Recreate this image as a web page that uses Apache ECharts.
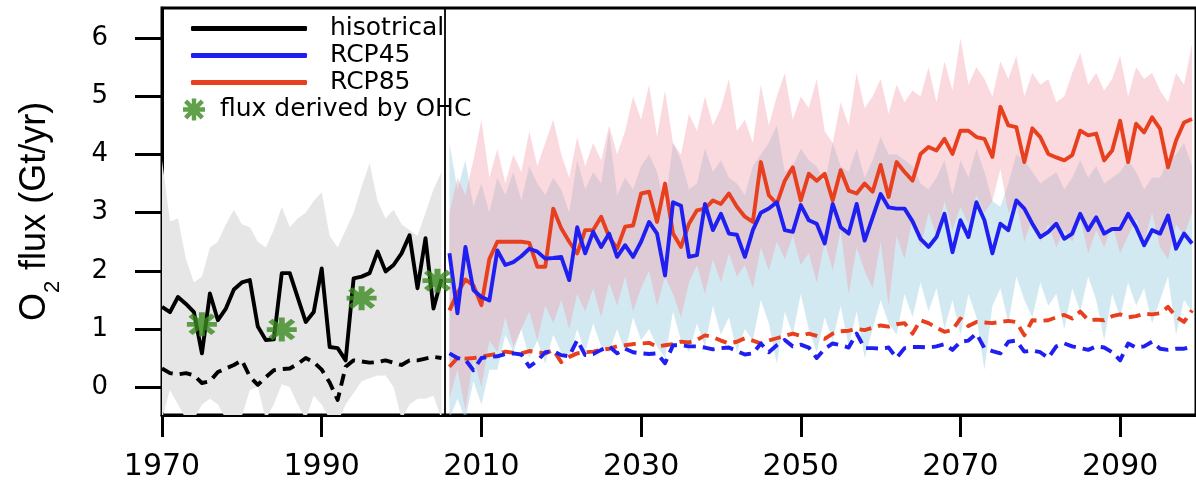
<!DOCTYPE html>
<html>
<head>
<meta charset="utf-8">
<script src="https://cdn.jsdelivr.net/npm/echarts@6/dist/echarts.min.js"></script>
<style>
  html, body { margin: 0; padding: 0; background: #fff; }
  #chart { width: 1196px; height: 483px; }
</style>
</head>
<body>
<div id="chart"></div>
<script>
// Annual O2 flux (Gt/yr): historical run 1970-2005, scenario runs 2006-2099
const HIST_START = 1970;
const RCP_START = 2006;
const HIST_END_MARK = 2005.4;

const xTicks = [1970, 1990, 2010, 2030, 2050, 2070, 2090];
const yTicks = [0, 1, 2, 3, 4, 5, 6];

// historical: solid line, dashed line, shaded spread
const histMain = [1.38, 1.29, 1.55, 1.43, 1.29, 0.58, 1.61, 1.15, 1.35, 1.68,
  1.80, 1.84, 1.04, 0.81, 0.82, 1.96, 1.96, 1.54, 1.12, 1.29,
  2.04, 0.69, 0.67, 0.46, 1.87, 1.90, 1.96, 2.33, 1.99, 2.10,
  2.30, 2.61, 1.70, 2.56, 1.35, 1.86];
const histDash = [0.32, 0.24, 0.22, 0.24, 0.20, 0.07, 0.10, 0.26, 0.32, 0.38,
  0.46, 0.18, 0.04, 0.17, 0.29, 0.31, 0.32, 0.40, 0.50, 0.43,
  0.30, 0.08, -0.22, 0.35, 0.46, 0.44, 0.42, 0.43, 0.46, 0.42,
  0.38, 0.46, 0.46, 0.49, 0.52, 0.50];
const histHi = [3.9, 2.85, 2.9, 2.2, 1.8, 1.9, 2.4, 2.5, 2.8, 3.05,
  2.8, 2.75, 2.5, 2.4, 2.7, 3.1, 2.75, 2.9, 3.0, 3.2,
  3.35, 2.6, 2.4, 2.7, 3.0, 3.45, 3.85, 3.2, 2.9, 3.05,
  2.8, 2.7, 2.6, 3.0, 3.4, 3.7];
const histLo = [-0.55, -0.05, -0.3, -0.55, -0.55, -0.3, -0.2, -0.3, -0.55, -0.55,
  -0.5, -0.05, 0.0, -0.55, -0.3, 0.05, 0.0, -0.3, -0.55, -0.15,
  -0.3, -0.55, -0.6, -0.3, -0.1, 0.1, 0.15, 0.2, 0.2, 0.0,
  -0.55, -0.3, -0.2, -0.2, -0.15, -0.55];

// RCP4.5
const rcp45Main = [2.30, 1.27, 2.41, 1.67, 1.55, 1.49, 2.35, 2.10, 2.15, 2.25,
  2.38, 2.33, 2.21, 2.22, 2.24, 1.84, 2.75, 2.30, 2.67, 2.41,
  2.64, 2.24, 2.44, 2.24, 2.50, 2.84, 2.64, 1.92, 3.18, 3.12,
  2.24, 2.27, 3.15, 2.70, 2.98, 2.64, 2.62, 2.24, 2.70, 3.00,
  3.07, 3.18, 2.70, 2.67, 3.13, 2.87, 2.81, 2.47, 3.15, 2.75,
  2.64, 3.15, 2.52, 2.92, 3.32, 3.09, 3.07, 3.07, 2.85, 2.55,
  2.41, 2.58, 2.98, 2.32, 2.87, 2.58, 3.18, 2.87, 2.30, 2.81,
  2.70, 3.21, 3.07, 2.81, 2.58, 2.67, 2.81, 2.55, 2.64, 2.98,
  2.70, 2.92, 2.64, 2.72, 2.72, 2.98, 2.75, 2.44, 2.70, 2.64,
  2.95, 2.38, 2.64, 2.47];
const rcp45Dash = [0.58, 0.50, 0.47, 0.29, 0.50, 0.52, 0.53, 0.57, 0.58, 0.56,
  0.35, 0.45, 0.60, 0.62, 0.55, 0.53, 0.81, 0.55, 0.57, 0.64,
  0.70, 0.58, 0.66, 0.60, 0.58, 0.57, 0.58, 0.41, 0.72, 0.72,
  0.70, 0.70, 0.68, 0.65, 0.67, 0.68, 0.62, 0.56, 0.58, 0.75,
  0.60, 0.72, 0.81, 0.70, 0.73, 0.68, 0.50, 0.66, 0.75, 0.72,
  0.68, 0.92, 0.67, 0.67, 0.66, 0.68, 0.50, 0.67, 0.69, 0.69,
  0.68, 0.70, 0.74, 0.64, 0.78, 0.80, 0.92, 0.67, 0.62, 0.58,
  0.78, 0.80, 0.61, 0.63, 0.60, 0.50, 0.70, 0.75, 0.70, 0.67,
  0.64, 0.70, 0.68, 0.60, 0.46, 0.75, 0.68, 0.70, 0.78, 0.66,
  0.64, 0.66, 0.66, 0.69];
const rcp45Hi = [4.2, 3.4, 3.9, 3.1, 3.5, 3.0, 3.6, 3.3, 3.7, 3.2,
  3.8, 3.5, 3.3, 3.6, 3.4, 3.0, 3.9, 3.4, 3.7, 3.5,
  4.4, 3.3, 3.6, 3.4, 3.8, 4.0, 3.7, 3.1, 4.2, 3.9,
  3.4, 3.5, 4.1, 3.7, 3.9, 3.6, 3.5, 3.3, 3.8, 4.0,
  4.2, 4.5, 3.7, 3.8, 4.1, 3.9, 3.8, 3.5, 4.2, 3.8,
  3.7, 4.1, 3.6, 3.9, 4.3, 4.0, 4.0, 3.9, 3.8, 3.5,
  3.4, 3.6, 3.9, 3.3, 3.9, 3.6, 4.1, 3.7, 3.2, 3.1,
  3.5, 4.0, 3.9, 3.7, 3.5, 3.6, 3.7, 3.4, 3.6, 3.9,
  3.6, 3.8, 3.5, 3.6, 3.7, 3.9, 3.7, 3.4, 3.6, 3.6,
  3.9, 4.0, 4.2, 3.8];
const rcp45Lo = [-0.55, -0.2, -0.55, 0.1, -0.3, 0.3, 0.3, 0.9, 0.6, 1.0,
  0.5, 0.8, 0.4, 0.9, 0.6, 0.5, 1.0, 0.6, 1.1, 0.7,
  0.6, 1.0, 0.6, 1.2, 0.8, 1.0, 0.7, 0.5, 1.3, 0.8,
  0.6, 1.1, 0.7, 1.4, 0.9, 1.2, 0.6, 1.0, 0.8, 1.5,
  1.1, 0.4, 1.3, 0.9, 1.6, 1.0, 0.6, 1.2, 0.8, 1.4,
  0.7, 1.3, 0.5, 1.0, 1.5, 1.1, 0.9, 1.6, 1.2, 1.8,
  1.3, 1.7, 1.0, 1.5, 0.9, 1.6, 1.2, 0.3, 1.4, 1.7,
  1.1, 1.9, 1.5, 1.2, 1.8, 1.4, 1.6, 1.0, 1.7, 1.3,
  1.9, 1.5, 0.8, 1.6, 1.2, 1.8, 1.4, 1.7, 1.1, 1.5,
  1.9, 0.9, 1.5, 1.3];

// RCP8.5
const rcp85Main = [1.32, 1.62, 1.85, 1.75, 1.41, 2.20, 2.50, 2.50, 2.50, 2.50,
  2.48, 2.07, 2.07, 3.07, 2.73, 2.50, 2.30, 2.70, 2.70, 2.93,
  2.58, 2.38, 2.76, 2.78, 3.33, 3.36, 2.84, 3.50, 2.64, 2.41,
  2.81, 3.04, 3.07, 3.21, 3.15, 3.33, 3.10, 2.93, 2.84, 3.87,
  3.30, 3.15, 3.55, 3.78, 3.21, 3.67, 3.55, 3.67, 3.21, 3.73,
  3.38, 3.33, 3.50, 3.36, 3.82, 3.27, 3.87, 3.70, 3.55, 4.01,
  4.13, 4.07, 4.27, 4.01, 4.41, 4.41, 4.30, 4.27, 3.96, 4.82,
  4.50, 4.47, 3.87, 4.45, 4.30, 4.01, 3.95, 3.90, 3.99, 4.41,
  4.33, 4.36, 3.90, 4.07, 4.58, 3.87, 4.53, 4.38, 4.64, 4.44,
  3.78, 4.24, 4.55, 4.61];
const rcp85Dash = [0.35, 0.50, 0.49, 0.50, 0.52, 0.55, 0.57, 0.61, 0.59, 0.58,
  0.62, 0.60, 0.58, 0.64, 0.43, 0.52, 0.58, 0.60, 0.61, 0.64,
  0.66, 0.70, 0.72, 0.74, 0.75, 0.76, 0.70, 0.72, 0.74, 0.78,
  0.77, 0.81, 0.89, 0.86, 0.80, 0.75, 0.78, 0.84, 0.80, 0.75,
  0.80, 0.84, 0.88, 0.92, 0.88, 0.92, 0.88, 0.83, 0.92, 0.96,
  0.97, 1.00, 0.98, 1.02, 1.06, 1.04, 1.08, 1.10, 0.92, 1.15,
  1.10, 1.02, 0.95, 0.98, 1.18, 1.05, 1.12, 1.11, 1.10, 1.12,
  1.14, 1.12, 0.89, 1.15, 1.14, 1.15, 1.20, 1.24, 1.18, 1.30,
  1.15, 1.16, 1.15, 1.22, 1.25, 1.20, 1.22, 1.26, 1.25, 1.27,
  1.38, 1.21, 1.12, 1.32];
const rcp85Hi = [3.0, 3.6, 3.3, 3.9, 4.6, 3.6, 4.1, 3.5, 4.0, 3.7,
  4.4, 3.8, 4.2, 4.6, 4.0, 3.6, 4.3, 3.8, 4.2, 3.9,
  4.5, 4.0, 4.4, 5.0, 4.6, 5.2, 4.3, 5.1, 4.2, 4.0,
  4.7, 4.4, 5.0, 4.5, 4.8, 5.3, 4.4, 4.6, 4.2, 5.2,
  4.5, 5.0, 5.4, 4.6, 5.0, 4.8, 5.3, 4.4, 4.2, 4.9,
  4.5, 5.4, 4.8, 5.0, 5.3, 4.7, 5.2, 4.9, 5.1, 5.0,
  5.5, 4.9, 5.6, 5.1, 6.0, 5.2, 5.5, 5.3, 5.0, 5.6,
  5.3, 5.7, 5.0, 5.4, 5.2, 5.3, 4.9, 5.0, 5.4, 5.75,
  5.2, 5.4, 5.1, 5.3, 5.7, 5.0, 5.5, 5.3, 5.4, 5.1,
  4.9, 5.4, 5.2, 5.9];
const rcp85Lo = [-0.2, 0.3, -0.4, 0.5, 0.0, 0.8, 0.6, 1.2, 0.7, 1.0,
  1.3, 0.8, 1.4, 1.1, 1.5, 1.0, 1.6, 1.3, 1.7, 1.2,
  1.8, 1.4, 1.9, 1.3, 1.7, 2.0, 1.4, 1.9, 1.6, 1.2,
  1.8, 2.1, 1.6, 2.2, 1.8, 2.3, 1.9, 2.1, 1.7, 2.4,
  2.0, 2.5, 2.2, 2.6, 2.1, 2.3, 1.8, 2.5, 2.0, 2.7,
  1.6, 2.4, 2.0, 1.7, 2.5, 1.4, 2.6, 2.2, 2.9, 2.4,
  3.0, 2.6, 3.2, 2.7, 3.1, 2.8, 3.3, 3.0, 3.2, 3.75,
  3.0, 3.2, 2.5, 2.9, 2.5, 2.8, 2.4, 2.7, 2.5, 2.9,
  2.3, 2.7, 2.4, 2.8, 2.3, 2.6, 2.9, 2.5, 3.0, 2.4,
  2.2, 2.8, 2.6, 3.0];

// decadal estimates derived from ocean heat content
const ohcYears = [1975, 1985, 1995, 2004.5];
const ohcFlux = [1.08, 0.99, 1.53, 1.83];

const BLACK = '#000000';
const BLUE = '#1f1ff2';
const RED = '#e8401f';
const GREEN = '#3a8a1e';

// eight-armed asterisk built from four bars, all wound the same way
const ASTERISK = 'path://M0 40H100V60H0Z M40 0H60V100H40Z ' +
  'M19.07 4.93L95.07 80.93L80.93 95.07L4.93 19.07Z ' +
  'M95.07 19.07L19.07 95.07L4.93 80.93L80.93 4.93Z';

function pairs(start, values) {
  return values.map((v, i) => [start + i, v]);
}

function band(name, start, lo, hi, fill) {
  return {
    name: name,
    type: 'custom',
    coordinateSystem: 'cartesian2d',
    clip: true,
    silent: true,
    z: 1,
    data: lo.map((v, i) => [start + i, v, hi[i]]),
    encode: { x: 0, y: [1, 2] },
    renderItem: function (params, api) {
      if (params.dataIndex !== 0) return null;
      const upper = hi.map((v, i) => api.coord([start + i, v]));
      const lower = lo.map((v, i) => api.coord([start + i, v])).reverse();
      return {
        type: 'polygon',
        shape: { points: upper.concat(lower) },
        style: { fill: fill }
      };
    }
  };
}

function line(name, start, values, color, dashed, z) {
  return {
    name: name,
    type: 'line',
    data: pairs(start, values),
    symbol: 'none',
    color: color,
    itemStyle: { color: color },
    lineStyle: {
      color: color,
      width: 3.9,
      type: dashed ? [12, 7] : 'solid',
      join: 'round'
    },
    clip: true,
    silent: true,
    z: z
  };
}

const histSeries = line('hisotrical', HIST_START, histMain, BLACK, false, 5);
histSeries.markLine = {
  silent: true,
  symbol: 'none',
  label: { show: false },
  lineStyle: { color: BLACK, width: 1.8, type: 'solid' },
  data: [{ xAxis: HIST_END_MARK }]
};

const labelFont = 'DejaVu Sans';

const option = {
  animation: false,
  backgroundColor: '#ffffff',
  grid: {
    left: 162, right: -2, top: 8, bottom: 68,
    show: true, borderColor: BLACK, borderWidth: 3,
    backgroundColor: 'transparent'
  },
  xAxis: {
    type: 'value',
    min: 1970,
    max: 2099.5,
    axisLine: { show: true, onZero: false, lineStyle: { color: BLACK, width: 3 } },
    axisTick: { show: true, customValues: xTicks, length: 22, lineStyle: { color: BLACK, width: 3 } },
    axisLabel: {
      customValues: xTicks, color: BLACK, fontFamily: labelFont, fontSize: 30, margin: 37,
      formatter: v => String(v)
    },
    splitLine: { show: false }
  },
  yAxis: {
    type: 'value',
    min: -0.48,
    max: 6.52,
    axisLine: { show: true, onZero: false, lineStyle: { color: BLACK, width: 3 } },
    axisTick: { show: true, customValues: yTicks, length: 27, lineStyle: { color: BLACK, width: 3 } },
    axisLabel: { customValues: yTicks, color: BLACK, fontFamily: labelFont, fontSize: 26, margin: 54 },
    splitLine: { show: false },
    name: '{o|O}{s|2}{o| flux (Gt/yr)}',
    nameLocation: 'middle',
    nameRotate: 90,
    nameGap: 109,
    nameTextStyle: {
      color: BLACK,
      rich: {
        o: { fontFamily: 'Liberation Sans', fontSize: 36, color: BLACK, verticalAlign: 'top', lineHeight: 36 },
        s: { fontFamily: 'Liberation Sans', fontSize: 22, color: BLACK, verticalAlign: 'top', lineHeight: 22, padding: [25, 1, 0, 0] }
      }
    }
  },
  legend: [
    {
      orient: 'vertical',
      left: 186,
      top: 10,
      itemWidth: 116,
      itemHeight: 5,
      itemGap: 0,
      icon: 'roundRect',
      selectedMode: false,
      data: ['hisotrical', 'RCP45', 'RCP85'],
      textStyle: { fontFamily: labelFont, fontSize: 25, color: BLACK, lineHeight: 27, padding: [0, 0, 0, 18] }
    },
    {
      orient: 'vertical',
      left: 178,
      top: 91,
      itemWidth: 24,
      itemHeight: 22,
      selectedMode: false,
      data: [{ name: 'flux derived by OHC', icon: ASTERISK }],
      textStyle: { fontFamily: labelFont, fontSize: 25, color: BLACK, lineHeight: 27, padding: [0, 0, 0, 9] }
    }
  ],
  series: [
    band('hist spread', HIST_START, histLo, histHi, '#e6e6e6'),
    band('RCP45 spread', RCP_START, rcp45Lo, rcp45Hi, 'rgba(168, 212, 228, 0.5)'),
    band('RCP85 spread', RCP_START, rcp85Lo, rcp85Hi, 'rgba(240, 150, 165, 0.36)'),
    histSeries,
    line('hisotrical dashed', HIST_START, histDash, BLACK, true, 4),
    line('RCP85', RCP_START, rcp85Main, RED, false, 5),
    line('RCP85 dashed', RCP_START, rcp85Dash, RED, true, 4),
    line('RCP45', RCP_START, rcp45Main, BLUE, false, 6),
    line('RCP45 dashed', RCP_START, rcp45Dash, BLUE, true, 4),
    {
      name: 'flux derived by OHC',
      type: 'scatter',
      data: ohcYears.map((y, i) => [y, ohcFlux[i]]),
      symbol: ASTERISK,
      symbolSize: [30, 24],
      itemStyle: { color: GREEN },
      silent: true,
      z: 8
    }
  ]
};

const chart = echarts.init(document.getElementById('chart'), null, { renderer: 'canvas' });
chart.setOption(option);
</script>
</body>
</html>
